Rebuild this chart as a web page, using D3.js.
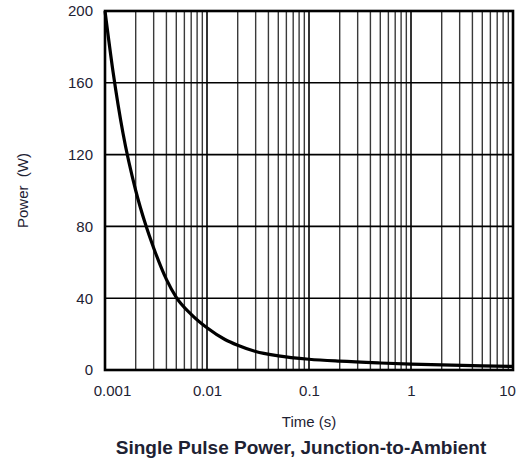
<!DOCTYPE html>
<html>
<head>
<meta charset="utf-8">
<script src="https://cdn.jsdelivr.net/npm/d3@7"></script>
<style>
  html, body { margin: 0; padding: 0; background: #fff; }
  svg { display: block; }
  text { font-family: "Liberation Sans", Arial, sans-serif; fill: #1e2233; }
</style>
</head>
<body>
<svg id="chart" width="523" height="461"></svg>
<script>
// Single pulse power curve (time in seconds, power in watts)
const pulseTime  = [0.001, 0.0012, 0.0015, 0.002, 0.0025, 0.003, 0.004, 0.005, 0.007, 0.01, 0.015, 0.02, 0.03, 0.05, 0.1, 0.2, 0.5, 1,   2,   5,   10];
const pulsePower = [200,   166,    132,    100,   81,     68,    50.5,  40.5,  31,    23.5, 17,    13.8, 10.3, 7.9,  6,   4.9, 3.9, 3.3, 2.8, 2.3, 2];

const xTickValues = [0.001, 0.01, 0.1, 1, 10];
const xTickLabels = ["0.001", "0.01", "0.1", "1", "10"];
const yTickValues = [0, 40, 80, 120, 160, 200];

const svg = d3.select("#chart");
const plotLeft = 105, plotRight = 513, plotTop = 11, plotBottom = 370;

const x = d3.scaleLog().domain([0.001, 10]).range([plotLeft, plotRight]);
const y = d3.scaleLinear().domain([0, 200]).range([plotBottom, plotTop]);

// Vertical grid: every 1..9 step inside each decade
const minorX = [];
for (let e = -3; e < 1; e++) {
  for (let m = 2; m <= 9; m++) minorX.push(m * Math.pow(10, e));
}
svg.append("g").selectAll("line").data(minorX).join("line")
  .attr("x1", d => x(d)).attr("x2", d => x(d))
  .attr("y1", plotTop).attr("y2", plotBottom)
  .attr("stroke", "#3a3a3a").attr("stroke-width", 1.4);

svg.append("g").selectAll("line").data(xTickValues).join("line")
  .attr("x1", d => x(d)).attr("x2", d => x(d))
  .attr("y1", plotTop).attr("y2", plotBottom)
  .attr("stroke", "#000").attr("stroke-width", 1.6);

// Horizontal grid
svg.append("g").selectAll("line").data(yTickValues).join("line")
  .attr("x1", plotLeft).attr("x2", plotRight)
  .attr("y1", d => y(d)).attr("y2", d => y(d))
  .attr("stroke", "#000").attr("stroke-width", 1.6);

// Plot frame
svg.append("rect")
  .attr("x", plotLeft).attr("y", plotTop)
  .attr("width", plotRight - plotLeft).attr("height", plotBottom - plotTop)
  .attr("fill", "none").attr("stroke", "#000").attr("stroke-width", 2.6);

// Power curve
const line = d3.line()
  .x((d, i) => x(pulseTime[i]))
  .y(d => y(d))
  .curve(d3.curveMonotoneX);
svg.append("path")
  .attr("d", line(pulsePower))
  .attr("fill", "none")
  .attr("stroke", "#000")
  .attr("stroke-width", 3.2)
  .attr("stroke-linejoin", "round");

// Y axis labels
const yAxis = d3.axisLeft(y).tickValues(yTickValues).tickSize(0).tickPadding(12);
const gy = svg.append("g").attr("transform", `translate(${plotLeft},0)`).call(yAxis);
gy.select(".domain").remove();
gy.selectAll("text").attr("font-size", 15).attr("font-family", null).attr("fill", null);

// X axis labels
const xAxis = d3.axisBottom(x).tickValues(xTickValues)
  .tickFormat((d, i) => xTickLabels[i]).tickSize(0).tickPadding(15);
const gx = svg.append("g").attr("transform", `translate(0,${plotBottom})`).call(xAxis);
gx.select(".domain").remove();
gx.selectAll("text").attr("font-size", 15).attr("font-family", null).attr("fill", null)
  .attr("dx", (d, i) => i === 0 ? 7 : (i === xTickValues.length - 1 ? -6 : 0));

// Axis titles
svg.append("text")
  .attr("x", (plotLeft + plotRight) / 2).attr("y", 427)
  .attr("text-anchor", "middle").attr("font-size", 15)
  .text("Time (s)");

svg.append("text")
  .attr("transform", `translate(28,${(plotTop + plotBottom) / 2}) rotate(-90)`)
  .attr("text-anchor", "middle").attr("font-size", 15)
  .attr("xml:space", "preserve")
  .text("Power  (W)");

// Chart title
svg.append("text")
  .attr("x", 301).attr("y", 454)
  .attr("text-anchor", "middle").attr("font-size", 19).attr("font-weight", "bold")
  .text("Single Pulse Power, Junction-to-Ambient");
</script>
</body>
</html>
